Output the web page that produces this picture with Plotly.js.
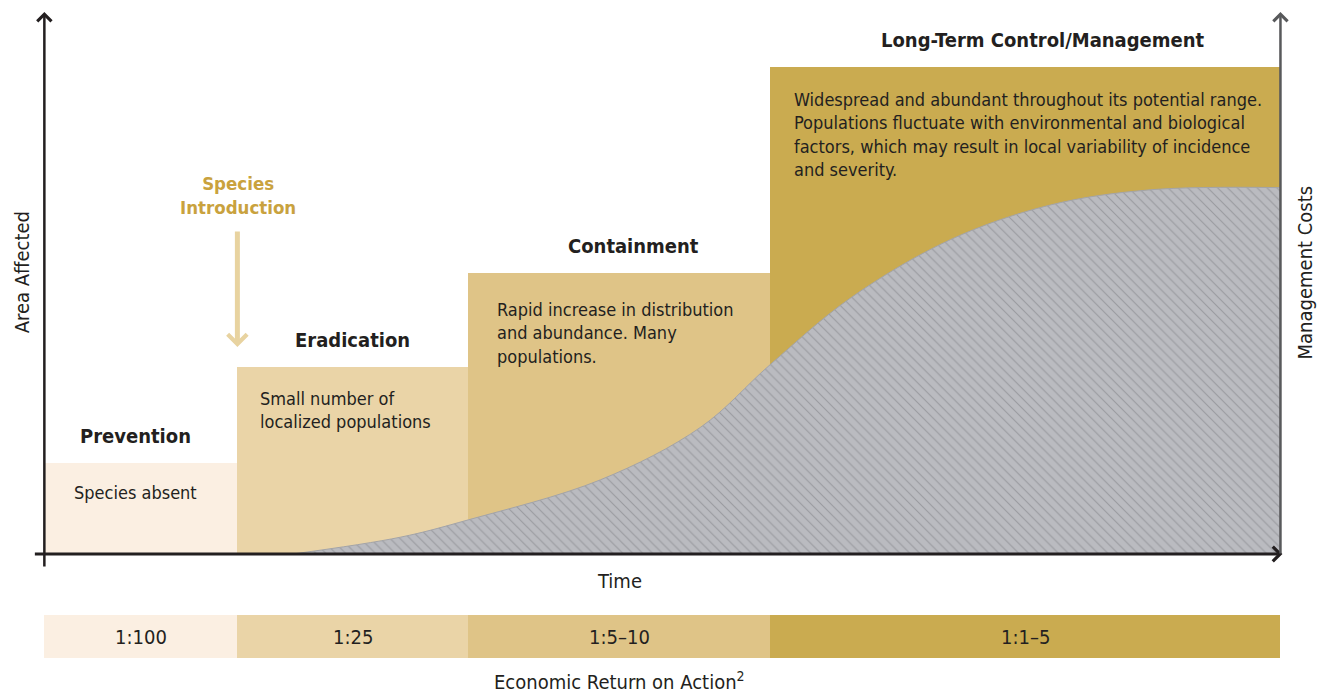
<!DOCTYPE html>
<html>
<head>
<meta charset="utf-8">
<script src="https://cdn.plot.ly/plotly-3.0.1.min.js"></script>
<style>html,body{margin:0;padding:0;background:#fff;}#chart{width:1320px;height:694px;}</style>
</head>
<body>
<div id="chart"></div>
<script>
// ---- data ----
const stageNames = ['Prevention', 'Eradication', 'Containment', 'Long-Term Control/Management'];
const stageStart = [0, 15.6, 34.3, 58.7];
const stageEnd = [15.6, 34.3, 58.7, 100];
const stageHeight = [16.8, 34.5, 51.8, 89.9];
const stageColors = ['#fbefe2', '#ead4a7', '#dfc487', '#caab50'];
const stageDescriptions = [
  'Species absent',
  'Small number of<br>localized populations',
  'Rapid increase in distribution<br>and abundance. Many<br>populations.',
  'Widespread and abundant throughout its potential range.<br>Populations fluctuate with environmental and biological<br>factors, which may result in local variability of incidence<br>and severity.'
];
const ratioLabels = ['1:100', '1:25', '1:5–10', '1:1–5'];
const curveTime = [20.1, 28.8, 34.3, 45.0, 53.1, 58.7, 65.2, 73.3, 81.4, 89.5, 100];
const curveArea = [0, 3.1, 6.3, 13.7, 23.4, 34.9, 47.2, 58.0, 64.4, 67.2, 67.6];

// ---- geometry helpers (layout only) ----
const W = 1320, H = 694;
const M = {l: 31.64, r: 21.46, t: 12, b: 36};
const XR = [-1, 101.5], YR = [-3, 100];
const plotW = W - M.l - M.r, plotH = H - M.t - M.b;
const pxX = p => XR[0] + (p - M.l) / plotW * (XR[1] - XR[0]);
const pxY = p => (554 - p) / 5.42;
const paperX = p => (p - M.l) / plotW;
const paperY = p => (H - M.b - p) / plotH;
const mainBottom = paperY(570.26);

const FONT = '"DejaVu Sans Condensed", "Liberation Sans Narrow", "Roboto", sans-serif';
const DARK = '#231f20';

const centers = stageStart.map((s, i) => (s + stageEnd[i]) / 2);
const widths = stageStart.map((s, i) => stageEnd[i] - s);

const traces = [];
stageNames.forEach((n, i) => {
  traces.push({
    type: 'bar', x: [centers[i]], y: [stageHeight[i]], width: [widths[i]], base: 0,
    marker: {color: stageColors[i], line: {width: 0}}, name: n, showlegend: false, hoverinfo: 'skip',
    xaxis: 'x', yaxis: 'y'
  });
  traces.push({
    type: 'bar', x: [centers[i]], y: [1], width: [widths[i]], base: 0,
    marker: {color: stageColors[i], line: {width: 0}}, name: ratioLabels[i], showlegend: false, hoverinfo: 'skip',
    xaxis: 'x2', yaxis: 'y2'
  });
});
traces.push({
  type: 'scatter', mode: 'lines', x: curveTime, y: curveArea,
  line: {shape: 'spline', color: '#a3a4a8', width: 1, smoothing: 1},
  fill: 'tozeroy', fillcolor: '#babbc0',
  fillpattern: {shape: '\\', bgcolor: '#babbc0', fgcolor: '#9a9ba0', size: 7, solidity: 0.16},
  showlegend: false, hoverinfo: 'skip', xaxis: 'x', yaxis: 'y'
});

const ann = [];
// axes with arrows
ann.push({xref: 'x', yref: 'y', axref: 'x', ayref: 'y', x: 0, y: 100, ax: 0, ay: -2.58, text: '', showarrow: true,
  arrowhead: 4, arrowsize: 1.1, arrowwidth: 2.5, arrowcolor: DARK, standoff: 0});
ann.push({xref: 'x', yref: 'y', axref: 'x', ayref: 'y', x: 100.16, y: 0, ax: -0.89, ay: 0, text: '', showarrow: true,
  arrowhead: 4, arrowsize: 0.95, arrowwidth: 3, arrowcolor: DARK, standoff: 0});
ann.push({xref: 'x', yref: 'y', axref: 'x', ayref: 'y', x: 100, y: 100, ax: 100, ay: -0.2, text: '', showarrow: true,
  arrowhead: 4, arrowsize: 1.1, arrowwidth: 2.5, arrowcolor: '#58595b', standoff: 0});

// stage headings
const headX = [135, 352, 633, 1043];
stageNames.forEach((n, i) => {
  ann.push({xref: 'x', yref: 'y', x: pxX(headX[i]), y: stageHeight[i], yshift: 27, text: '<b>' + n + '</b>',
    showarrow: false, xanchor: 'center', yanchor: 'middle', font: {family: FONT, size: 20, color: DARK}});
});
// descriptions
const descX = [72, 258, 495, 792];
const descY = [492, 398, 309, 99];
stageDescriptions.forEach((d, i) => {
  ann.push({xref: 'x', yref: 'y', x: pxX(descX[i]), y: pxY(descY[i] - 12), text: d, align: 'left',
    showarrow: false, xanchor: 'left', yanchor: 'top', font: {family: FONT, size: 18, color: DARK}});
});
// species introduction
ann.push({xref: 'x', yref: 'y', x: pxX(238), y: pxY(195), text: '<b>Species<br>Introduction</b>', showarrow: false,
  xanchor: 'center', yanchor: 'middle', font: {family: FONT, size: 18.5, color: '#c9a23e'}, align: 'center'});
ann.push({xref: 'x', yref: 'y', axref: 'x', ayref: 'y', x: pxX(237), y: pxY(347), ax: pxX(237), ay: pxY(230), text: '',
  showarrow: true, arrowhead: 4, arrowsize: 0.75, arrowwidth: 5, arrowcolor: '#e8d3a0', standoff: 0});
// axis titles
const T = {showarrow: false, xanchor: 'center', yanchor: 'middle', xref: 'paper', yref: 'paper'};
ann.push(Object.assign({}, T, {x: paperX(22), y: paperY(272), text: 'Area Affected', textangle: -90,
  font: {family: FONT, size: 20, color: DARK}}));
ann.push(Object.assign({}, T, {x: paperX(1305), y: paperY(272), text: 'Management Costs', textangle: -90,
  font: {family: FONT, size: 20, color: DARK}}));
ann.push(Object.assign({}, T, {x: paperX(619), y: paperY(581), text: 'Time',
  font: {family: FONT, size: 20, color: DARK}}));
ann.push(Object.assign({}, T, {x: paperX(619), y: paperY(681), text: 'Economic Return on Action<sup>2</sup>',
  font: {family: FONT, size: 20, color: DARK}}));
// ratio labels
ratioLabels.forEach((r, i) => {
  ann.push({xref: 'x2', yref: 'y2', x: centers[i], y: 0.5, text: r, showarrow: false, xanchor: 'center', yanchor: 'middle',
    font: {family: FONT, size: 20, color: DARK}});
});

const axBase = {showgrid: false, zeroline: false, showticklabels: false, ticks: '', showline: false, fixedrange: true};
const layout = {
  width: W, height: H, margin: M, paper_bgcolor: '#fff', plot_bgcolor: 'rgba(0,0,0,0)',
  barmode: 'overlay', bargap: 0, showlegend: false,
  xaxis: Object.assign({}, axBase, {range: XR, anchor: 'y'}),
  yaxis: Object.assign({}, axBase, {range: YR, domain: [mainBottom, 1], anchor: 'x'}),
  xaxis2: Object.assign({}, axBase, {range: XR, anchor: 'y2'}),
  yaxis2: Object.assign({}, axBase, {range: [0, 1], domain: [0, paperY(615)], anchor: 'x2'}),
  annotations: ann,
  font: {family: FONT, color: DARK}
};
Plotly.newPlot('chart', traces, layout, {staticPlot: true, displayModeBar: false});
</script>
</body>
</html>
